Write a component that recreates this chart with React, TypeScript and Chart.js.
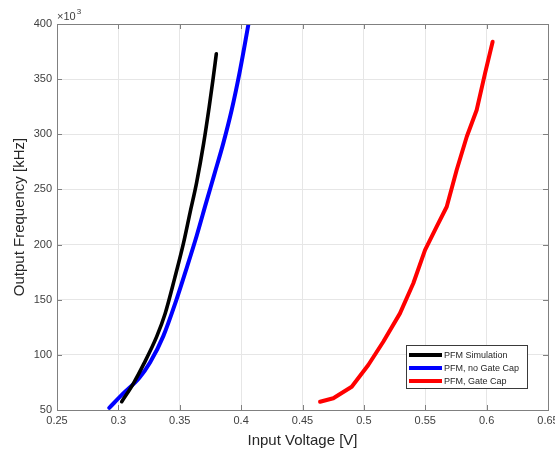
import React, { useEffect, useRef } from "react";
import { Chart, registerables } from "chart.js";

Chart.register(...registerables);

const xTicks = [0.25, 0.3, 0.35, 0.4, 0.45, 0.5, 0.55, 0.6, 0.65];
const yTicks = [50, 100, 150, 200, 250, 300, 350, 400];

const simX = [0.3027, 0.3122, 0.3208, 0.3312, 0.338, 0.346, 0.353, 0.3584, 0.3637, 0.3695, 0.374, 0.377, 0.3798];
const simY = [57.5, 74, 92, 116.5, 137, 170, 201, 229, 256, 292, 325, 349, 373];

const noCapX = [0.2926, 0.304, 0.317, 0.3258, 0.3366, 0.347, 0.356, 0.3638, 0.3715, 0.378, 0.3855, 0.3923, 0.3991, 0.406];
const noCapY = [52, 65, 79, 93, 117, 149, 180, 208, 238, 263, 292, 322, 358, 400];

const capX = [0.4643, 0.4751, 0.4901, 0.5036, 0.5158, 0.5294, 0.5403, 0.5498, 0.5593, 0.5675, 0.5756, 0.5838, 0.5919, 0.5987, 0.6049];
const capY = [57.5, 60.6, 71.1, 90.8, 111.9, 137.6, 164.9, 195, 216.2, 234.3, 267.6, 297.8, 322, 355.2, 383.9];

const seriesNames = ["PFM Simulation", "PFM, no Gate Cap", "PFM, Gate Cap"];
const seriesColors = ["#000000", "#0000ff", "#ff0000"];

const toPts = (xs: number[], ys: number[]) => xs.map((x, i) => ({ x, y: ys[i] }));

const FONT = "'Liberation Sans', Arial, Helvetica, sans-serif";
const AXIS = "#808080";
const TEXT = "#404040";

const framePlugin = {
  id: "frame",
  afterDatasetsDraw(chart: any) {
    const { ctx, chartArea: a, scales } = chart;
    ctx.save();
    ctx.strokeStyle = AXIS;
    ctx.lineWidth = 1;
    ctx.strokeRect(Math.round(a.left) + 0.5, Math.round(a.top) + 0.5, Math.round(a.right - a.left), Math.round(a.bottom - a.top));
    const tl = 5;
    ctx.beginPath();
    xTicks.forEach((v) => {
      const px = Math.round(scales.x.getPixelForValue(v)) + 0.5;
      ctx.moveTo(px, a.bottom);
      ctx.lineTo(px, a.bottom - tl);
      ctx.moveTo(px, a.top);
      ctx.lineTo(px, a.top + tl);
    });
    yTicks.forEach((v) => {
      const py = Math.round(scales.y.getPixelForValue(v)) + 0.5;
      ctx.moveTo(a.left, py);
      ctx.lineTo(a.left + tl, py);
      ctx.moveTo(a.right, py);
      ctx.lineTo(a.right - tl, py);
    });
    ctx.stroke();

    // exponent label
    ctx.fillStyle = TEXT;
    ctx.textBaseline = "alphabetic";
    ctx.textAlign = "left";
    ctx.font = `11px ${FONT}`;
    ctx.fillText("\u00d710", a.left, a.top - 4);
    const w = ctx.measureText("\u00d710").width;
    ctx.font = `8px ${FONT}`;
    ctx.fillText("3", a.left + w + 1, a.top - 10);

    // legend
    const lx = 406, ly = 345, lw = 121, lh = 43;
    ctx.fillStyle = "#ffffff";
    ctx.fillRect(lx, ly, lw, lh);
    ctx.strokeStyle = "#3a3a3a";
    ctx.lineWidth = 1;
    ctx.strokeRect(lx + 0.5, ly + 0.5, lw, lh);
    ctx.font = `9px ${FONT}`;
    ctx.textBaseline = "middle";
    seriesNames.forEach((name, i) => {
      const y = ly + 10 + i * 13;
      ctx.strokeStyle = seriesColors[i];
      ctx.lineWidth = 4;
      ctx.beginPath();
      ctx.moveTo(lx + 3, y);
      ctx.lineTo(lx + 36, y);
      ctx.stroke();
      ctx.fillStyle = "#262626";
      ctx.fillText(name, lx + 38, y + 0.5);
    });
    ctx.restore();
  },
};

export default function App() {
  const ref = useRef<HTMLCanvasElement | null>(null);
  useEffect(() => {
    if (!ref.current) return;
    const chart = new Chart(ref.current, {
      type: "line",
      data: {
        datasets: [
          { label: seriesNames[0], data: toPts(simX, simY), borderColor: seriesColors[0], borderWidth: 3.6, cubicInterpolationMode: "monotone" },
          { label: seriesNames[1], data: toPts(noCapX, noCapY), borderColor: seriesColors[1], borderWidth: 4, cubicInterpolationMode: "monotone" },
          { label: seriesNames[2], data: toPts(capX, capY), borderColor: seriesColors[2], borderWidth: 4 },
        ],
      },
      options: {
        animation: false,
        responsive: false,
        parsing: false as any,
        elements: { point: { radius: 0 }, line: { tension: 0, borderCapStyle: "round", borderJoinStyle: "round" } },
        layout: { padding: { top: 24, right: 7, left: 0, bottom: 0 } },
        plugins: { legend: { display: false }, tooltip: { enabled: false } },
        scales: {
          x: {
            type: "linear",
            min: 0.25,
            max: 0.65,
            afterBuildTicks: (s: any) => { s.ticks = xTicks.map((v) => ({ value: v })); },
            afterFit: (s: any) => { s.height = 43; s.paddingLeft = 0; s.paddingRight = 0; },
            ticks: {
              color: TEXT,
              font: { family: FONT, size: 11 },
              padding: 4,
              maxRotation: 0,
              autoSkip: false,
              callback: (v: any) => String(Number(v)),
            },
            grid: { color: "#e6e6e6", lineWidth: 1, drawTicks: false },
            border: { display: false },
            title: { display: true, text: "Input Voltage [V]", color: "#262626", font: { family: FONT, size: 15, lineHeight: 1.2 }, padding: { top: 0, bottom: 3 } },
          },
          y: {
            type: "linear",
            min: 50,
            max: 400,
            afterBuildTicks: (s: any) => { s.ticks = yTicks.map((v) => ({ value: v })); },
            afterFit: (s: any) => { s.width = 57; s.paddingTop = 0; s.paddingBottom = 0; },
            ticks: {
              color: TEXT,
              font: { family: FONT, size: 11 },
              padding: 5,
              autoSkip: false,
              callback: (v: any) => String(v),
            },
            grid: { color: "#e6e6e6", lineWidth: 1, drawTicks: false },
            border: { display: false },
            title: { display: true, text: "Output Frequency [kHz]", color: "#262626", font: { family: FONT, size: 15, lineHeight: 1.2 }, padding: { top: 11, bottom: 0 } },
          },
        },
      },
      plugins: [framePlugin],
    });
    return () => chart.destroy();
  }, []);
  return (
    <div style={{ position: "absolute", left: 0, top: 0, width: 555, height: 453, background: "#ffffff" }}>
      <canvas ref={ref} width={555} height={453} style={{ width: 555, height: 453, display: "block" }} />
    </div>
  );
}
